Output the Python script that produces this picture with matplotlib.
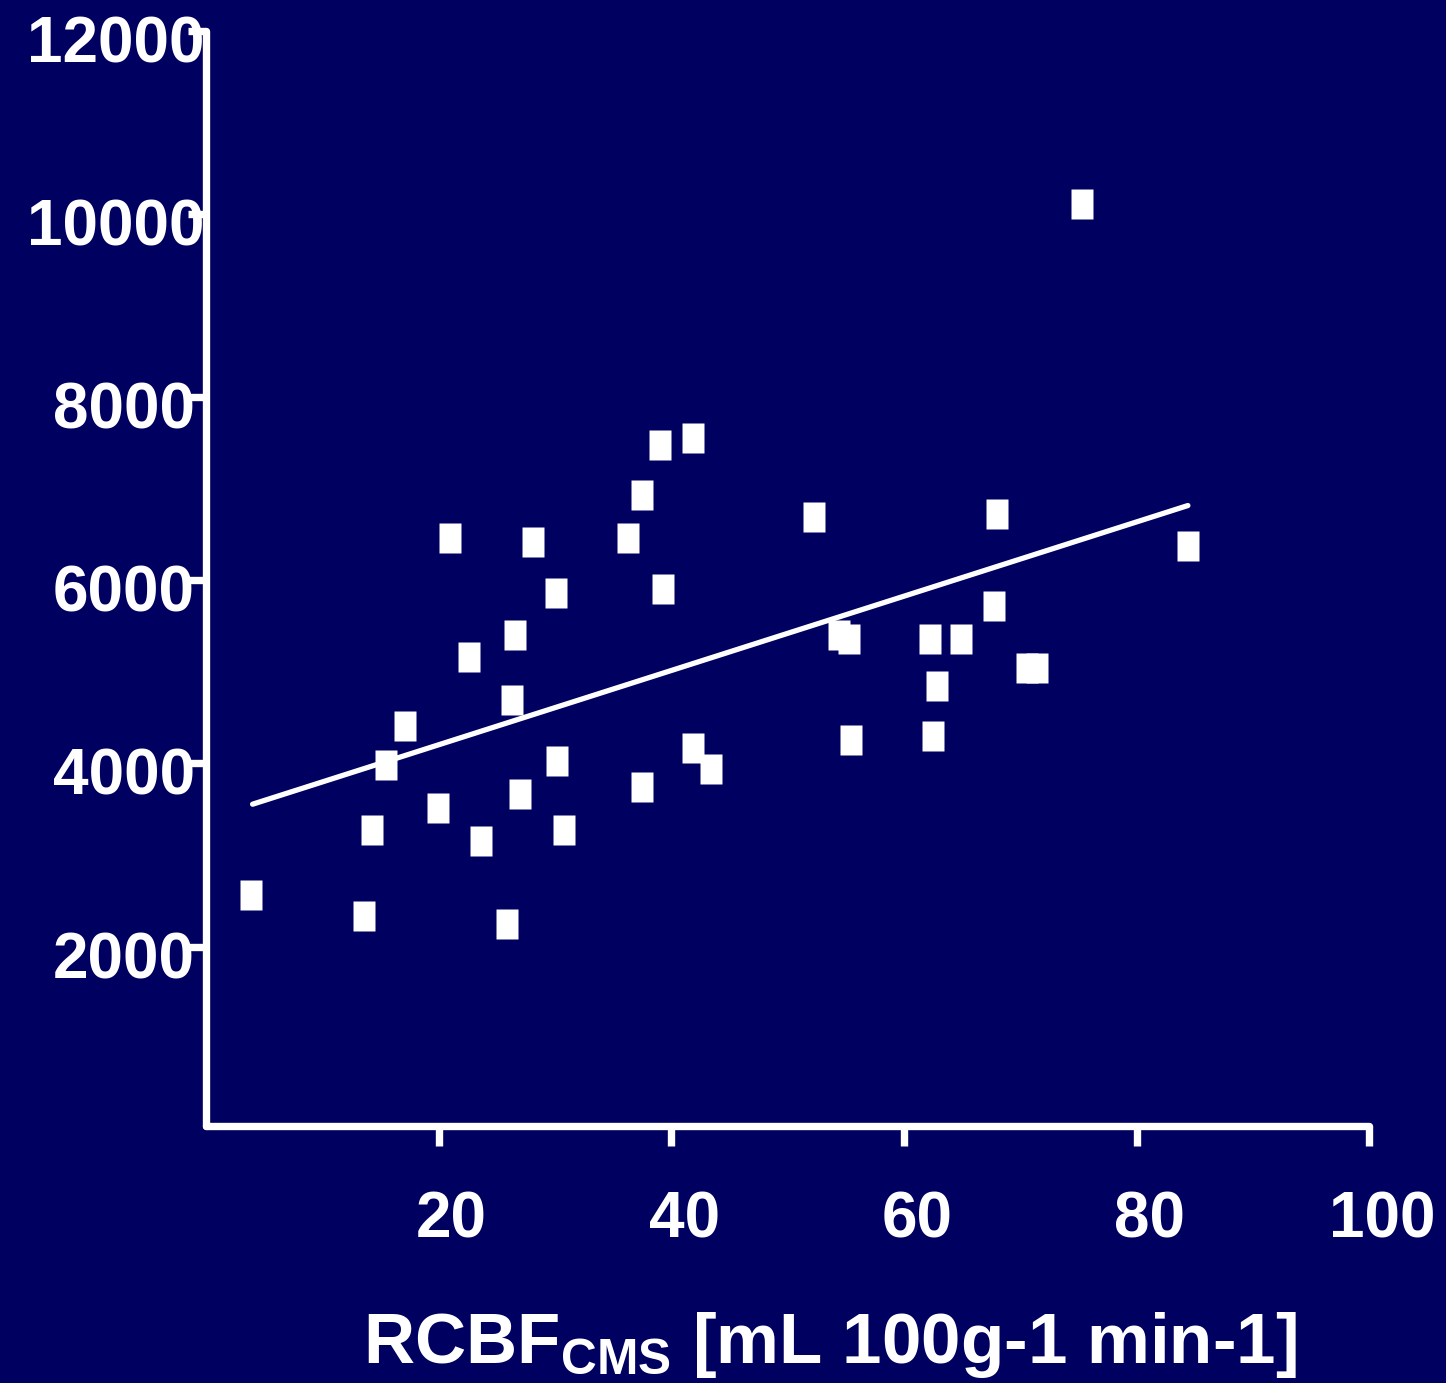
import matplotlib.pyplot as plt
import matplotlib.transforms as mtransforms

plt.rcParams.update({
    "font.family": "Liberation Sans",
    "font.weight": "bold",
    "mathtext.fontset": "custom",
    "mathtext.rm": "Liberation Sans:bold",
    "mathtext.bf": "Liberation Sans:bold",
    "mathtext.it": "Liberation Sans:bold",
})

# values
rcbf = [21.0, 28.1, 30.1, 26.6, 22.6, 39.0, 41.9, 37.5, 36.3, 39.3,
        52.3, 68.0, 67.7, 54.4, 55.3, 62.2, 64.9, 75.3, 84.4, 70.6,
        71.4, 26.3, 17.1, 15.5, 30.2, 27.0, 19.9, 14.3, 23.6, 30.8,
        3.9, 13.6, 25.9, 62.8, 55.4, 62.5, 41.9, 43.4, 37.5]
signal = [6460, 6420, 5860, 5400, 5160, 7480, 7550, 6930, 6460, 5900,
          6690, 6730, 5720, 5400, 5360, 5360, 5360, 10110, 6380, 5040,
          5040, 4690, 4410, 3980, 4030, 3670, 3510, 3270, 3150, 3270,
          2560, 2330, 2250, 4850, 4260, 4300, 4170, 3940, 3740]

# regression line ends
fit_x = [4.0, 84.4]
fit_y = [3555, 6817]

xticks = [20, 40, 60, 80, 100]
yticks = [2000, 4000, 6000, 8000, 10000, 12000]

bg = "#000060"
fig = plt.figure(figsize=(14.46, 13.83), dpi=100, facecolor=bg)
ax = fig.add_axes([0.1425, 0.1858, 0.8045, 0.7918])
ax.set_facecolor(bg)

box = [(-0.37, -0.5), (0.37, -0.5), (0.37, 0.5), (-0.37, 0.5), (-0.37, -0.5)]
ax.plot(rcbf, signal, ls="none", marker=box, ms=22.3, mfc="white", mec="none")
ax.plot(fit_x, fit_y, color="white", lw=3.8, solid_capstyle="round")

ax.set_xlim(0, 100)
ax.set_ylim(40, 12000)
ax.set_xticks(xticks)
ax.set_yticks(yticks)
ax.set_xticklabels([str(t) for t in xticks])
ax.set_yticklabels([str(t) for t in yticks])

for side in ["top", "right"]:
    ax.spines[side].set_visible(False)
for side in ["left", "bottom"]:
    ax.spines[side].set_color("white")
    ax.spines[side].set_linewidth(5.3)
    ax.spines[side].set_capstyle("round")

ax.tick_params(colors="white", width=5.3, labelsize=46)
ax.tick_params(axis="x", length=14.4, pad=32)
ax.tick_params(axis="y", length=13, pad=-12)

dx = mtransforms.ScaledTranslation(0.13, 0, fig.dpi_scale_trans)
for lbl in ax.get_xticklabels():
    lbl.set_transform(lbl.get_transform() + dx)
for lbl in ax.get_yticklabels():
    # the shorter labels sit a little further from the axis
    shift = -0.10 if len(lbl.get_text()) < 5 else 0
    dy = mtransforms.ScaledTranslation(shift, -0.08, fig.dpi_scale_trans)
    lbl.set_transform(lbl.get_transform() + dy)

ax.set_xlabel(r"RCBF$_{\mathrm{CMS}}$ [mL 100g-1 min-1]", color="white",
              fontsize=51, fontweight="bold", va="baseline")
ax.xaxis.set_label_coords(0.536, -0.2164)

fig.savefig("out.png", dpi=100, facecolor=bg)
